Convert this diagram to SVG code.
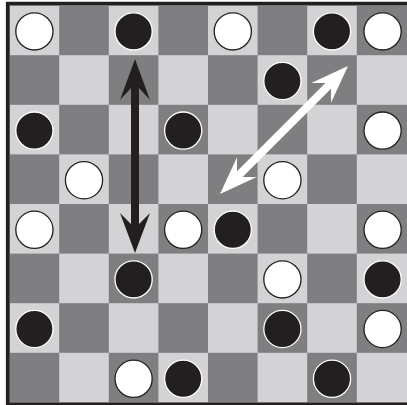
<svg xmlns="http://www.w3.org/2000/svg" width="407" height="405" viewBox="0 0 407 405">
<style>
.l{fill:#d3d3d5}
.w{fill:#ffffff;stroke:#231f20;stroke-width:1.3}
.b{fill:#231f20;stroke:#ffffff;stroke-width:1.3}
</style>
<rect x="0" y="0" width="407" height="405" fill="#ffffff"/>
<g id="board">
<rect x="9.6" y="5.6" width="397.4" height="397" fill="#7f7f82"/>
<rect class="l" x="9.6" y="5.6" width="49.6" height="49.6"/><rect class="l" x="108.8" y="5.6" width="49.6" height="49.6"/><rect class="l" x="208" y="5.6" width="49.6" height="49.6"/><rect class="l" x="307.2" y="5.6" width="49.6" height="49.6"/>
<rect class="l" x="59.2" y="55.2" width="49.6" height="49.6"/><rect class="l" x="158.4" y="55.2" width="49.6" height="49.6"/><rect class="l" x="257.6" y="55.2" width="49.6" height="49.6"/><rect class="l" x="356.8" y="55.2" width="50.2" height="49.6"/>
<rect class="l" x="9.6" y="104.8" width="49.6" height="49.6"/><rect class="l" x="108.8" y="104.8" width="49.6" height="49.6"/><rect class="l" x="208" y="104.8" width="49.6" height="49.6"/><rect class="l" x="307.2" y="104.8" width="49.6" height="49.6"/>
<rect class="l" x="59.2" y="154.4" width="49.6" height="49.6"/><rect class="l" x="158.4" y="154.4" width="49.6" height="49.6"/><rect class="l" x="257.6" y="154.4" width="49.6" height="49.6"/><rect class="l" x="356.8" y="154.4" width="50.2" height="49.6"/>
<rect class="l" x="9.6" y="204" width="49.6" height="49.6"/><rect class="l" x="108.8" y="204" width="49.6" height="49.6"/><rect class="l" x="208" y="204" width="49.6" height="49.6"/><rect class="l" x="307.2" y="204" width="49.6" height="49.6"/>
<rect class="l" x="59.2" y="253.6" width="49.6" height="49.6"/><rect class="l" x="158.4" y="253.6" width="49.6" height="49.6"/><rect class="l" x="257.6" y="253.6" width="49.6" height="49.6"/><rect class="l" x="356.8" y="253.6" width="50.2" height="49.6"/>
<rect class="l" x="9.6" y="303.2" width="49.6" height="49.6"/><rect class="l" x="108.8" y="303.2" width="49.6" height="49.6"/><rect class="l" x="208" y="303.2" width="49.6" height="49.6"/><rect class="l" x="307.2" y="303.2" width="49.6" height="49.6"/>
<rect class="l" x="59.2" y="352.8" width="49.6" height="49.8"/><rect class="l" x="158.4" y="352.8" width="49.6" height="49.8"/><rect class="l" x="257.6" y="352.8" width="49.6" height="49.8"/><rect class="l" x="356.8" y="352.8" width="50.2" height="49.8"/>
<path d="M7.8 405 V3.6 H407 M7.8 404.5 H407" fill="none" stroke="#231f20" stroke-width="3.8"/>
</g>
<g id="pieces">
<g id="r0"><circle class="w" cx="34.4" cy="31.4" r="18.6"/><circle class="b" cx="133.6" cy="31.4" r="18.6"/><circle class="w" cx="232.8" cy="31.4" r="18.6"/><circle class="b" cx="332" cy="31.4" r="18.6"/><circle class="w" cx="382.6" cy="31.4" r="18.6"/></g>
<g id="r1"><circle class="b" cx="282.4" cy="81" r="18.6"/></g>
<g id="r2"><circle class="b" cx="34.4" cy="130.6" r="18.6"/><circle class="b" cx="183.2" cy="130.6" r="18.6"/><circle class="w" cx="382.6" cy="130.6" r="18.6"/></g>
<g id="r3"><circle class="w" cx="84" cy="180.2" r="18.6"/><circle class="w" cx="282.4" cy="180.2" r="18.6"/></g>
<g id="r4"><circle class="w" cx="34.4" cy="229.8" r="18.6"/><circle class="w" cx="183.2" cy="229.8" r="18.6"/><circle class="b" cx="232.8" cy="229.8" r="18.6"/><circle class="w" cx="382.6" cy="229.8" r="18.6"/></g>
<g id="r5"><circle class="b" cx="133.6" cy="279.4" r="18.6"/><circle class="w" cx="282.4" cy="279.4" r="18.6"/><circle class="b" cx="382.6" cy="279.4" r="18.6"/></g>
<g id="r6"><circle class="b" cx="34.4" cy="329" r="18.6"/><circle class="b" cx="282.4" cy="329" r="18.6"/><circle class="w" cx="382.6" cy="329" r="18.6"/></g>
<g id="r7"><circle class="w" cx="133.6" cy="378.8" r="18.6"/><circle class="b" cx="183.2" cy="378.8" r="18.6"/><circle class="b" cx="332" cy="378.8" r="18.6"/></g>
</g>
<g id="connectors">
<polygon id="black-arrow" fill="#231f20" points="135,59 150,100 139,88 139,224 150,213 135,253 120,213 131,224 131,88 120,100"/>
<polygon id="white-arrow" fill="#ffffff" transform="translate(284,130) rotate(-45)" points="90.5,0 52.5,14 62.5,4 -62.5,4 -52.5,14 -90.5,0 -52.5,-14 -62.5,-4 62.5,-4 52.5,-14"/>
</g>
</svg>
